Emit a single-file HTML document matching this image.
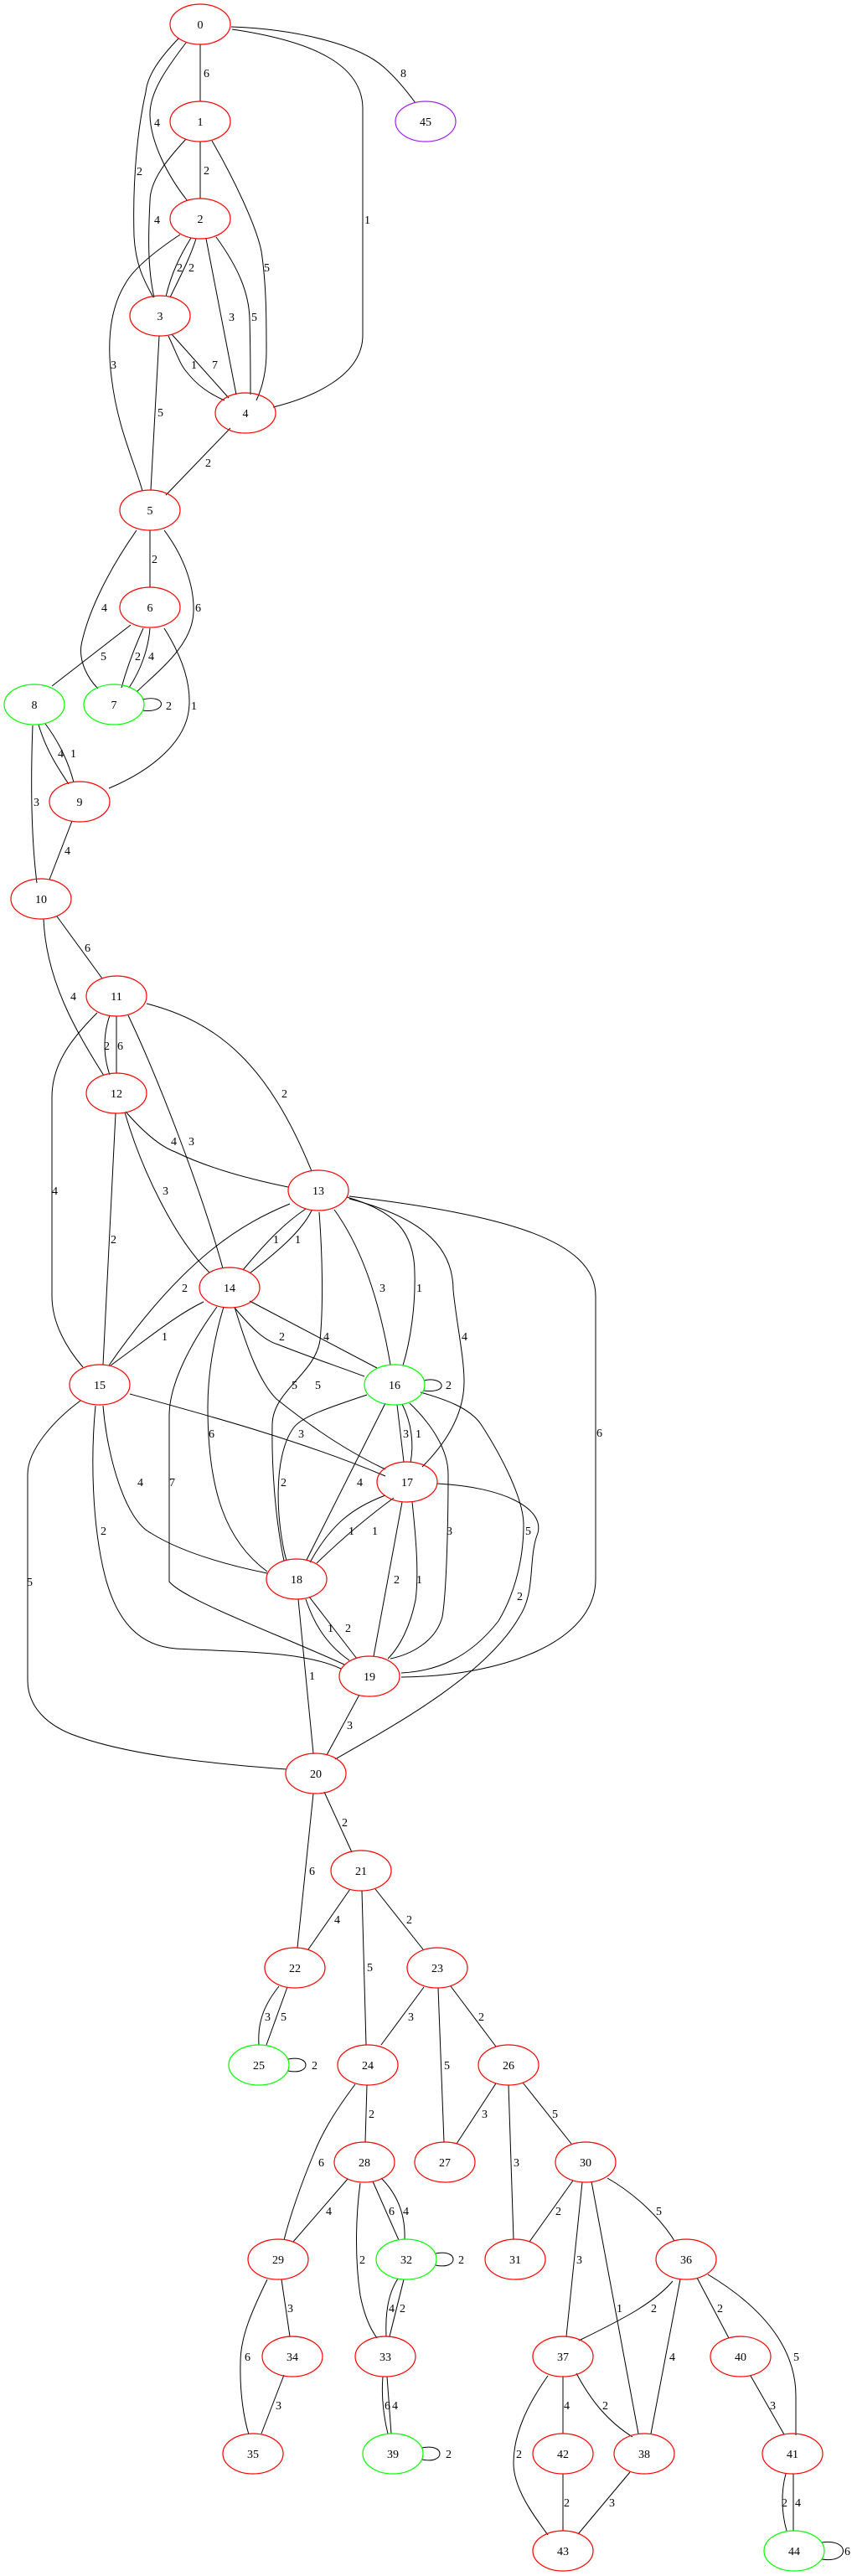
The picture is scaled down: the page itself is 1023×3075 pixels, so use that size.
<!DOCTYPE html>
<html><head><meta charset="utf-8"><style>
html,body{margin:0;padding:0;background:#fff;}
svg{display:block;}
text{font-family:"Liberation Serif",serif;font-size:14px;fill:#000;}
.n text{text-anchor:middle;}
</style></head><body>
<svg width="1023" height="3075" viewBox="0 0 1023 3075" xmlns="http://www.w3.org/2000/svg">
<g fill="none" stroke="#000" stroke-width="1">
<path d="M239,53 L239,121"/>
<path d="M276,32 C360,35 430,55 458,80 C475,95 488,112 496,123"/>
<path d="M277,35 C380,50 433,80 433,130 L433,400 C433,450 370,475 326,486"/>
<path d="M213,46 C190,70 176,90 174,110 C165,150 158,210 160,282 C162,320 175,340 183,355"/>
<path d="M222,51 C200,80 178,110 179,138 C180,170 200,210 224,240"/>
<path d="M239,169 L239,237"/>
<path d="M222,166 C200,190 179,215 179,240 C177,280 176,320 184,355"/>
<path d="M253,168 C280,215 306,270 312,300 C318,340 318,380 318,420 C318,445 312,465 306,478"/>
<path d="M228,284 C215,305 205,325 198,354"/>
<path d="M234,285 C226,310 215,330 203,355"/>
<path d="M246,285 L282,471"/>
<path d="M258,283 C285,320 297,350 298,380 C299,420 299,450 299,471"/>
<path d="M215,280 C185,300 160,320 150,338 C130,370 128,410 133,450 C140,510 160,550 170,586"/>
<path d="M201,401 C210,420 215,435 222,443 C235,460 250,470 268,478"/>
<path d="M205,399 L273,475"/>
<path d="M190,401 L180,585"/>
<path d="M275,511 L198,591"/>
<path d="M179,633 L179,701"/>
<path d="M163,633 C130,680 105,730 97,770 C94,790 105,810 117,822"/>
<path d="M196,633 C220,665 232,700 231,730 C230,770 190,800 163,826"/>
<path d="M171,750 C162,770 152,795 145,821"/>
<path d="M179,750 C177,775 168,800 154,821"/>
<path d="M156,746 L62,819"/>
<path d="M196,750 C215,780 227,810 226,840 C225,885 180,920 130,941"/>
<path d="M170,835 C200,828 200,852 170,848"/>
<path d="M46,865 C55,895 68,915 82,936"/>
<path d="M54,864 C70,885 82,910 88,934"/>
<path d="M39,866 C37,920 36,990 44,1054"/>
<path d="M86,980 L59,1050"/>
<path d="M68,1094 L122,1168"/>
<path d="M52,1097 C55,1170 90,1230 124,1284"/>
<path d="M131,1212 C123,1235 123,1260 131,1283"/>
<path d="M139,1213 L139,1281"/>
<path d="M175,1198 C260,1220 320,1270 372,1398"/>
<path d="M153,1212 C190,1290 240,1420 266,1514"/>
<path d="M116,1209 C85,1240 62,1270 62,1310 L62,1547 C62,1580 80,1610 99,1632"/>
<path d="M150,1327 C170,1350 190,1368 209,1375 C250,1395 300,1408 344,1417"/>
<path d="M149,1328 C170,1400 210,1480 250,1519"/>
<path d="M138,1329 L123,1629"/>
<path d="M365,1443 C340,1460 320,1480 290,1516"/>
<path d="M372,1445 C360,1470 330,1495 298,1520"/>
<path d="M346,1437 C290,1460 220,1500 130,1630"/>
<path d="M399,1444 C425,1480 450,1535 466,1629"/>
<path d="M414,1429 C470,1445 495,1470 495,1520 C496,1560 490,1600 481,1630"/>
<path d="M417,1431 C490,1450 541,1480 541,1540 C545,1580 554,1620 554,1649 C554,1690 530,1725 504,1751"/>
<path d="M381,1447 C385,1500 386,1560 382,1600 C376,1640 326,1660 325,1700 C324,1760 330,1820 339,1863"/>
<path d="M417,1428 C600,1450 711,1480 711,1547 L711,1885 C711,1960 600,2001 479,2002"/>
<path d="M243,1554 C210,1570 180,1595 132,1630"/>
<path d="M280,1561 C300,1585 315,1600 332,1605 C370,1620 400,1630 435,1643"/>
<path d="M298,1553 L450,1633"/>
<path d="M280,1560 C295,1610 310,1650 330,1670 C380,1710 420,1735 460,1754"/>
<path d="M267,1560 C255,1600 248,1640 248,1680 C248,1780 270,1840 319,1876"/>
<path d="M259,1560 C230,1600 202,1650 202,1690 L202,1888 C220,1910 330,1950 411,1987"/>
<path d="M155,1664 C250,1690 360,1720 460,1762"/>
<path d="M123,1678 C128,1740 150,1815 180,1830 C220,1855 280,1870 319,1878"/>
<path d="M114,1678 C108,1740 110,1820 125,1880 C140,1940 170,1965 210,1968 C280,1972 360,1970 407,1992"/>
<path d="M96,1672 C65,1695 33,1730 33,1760 L33,2006 C33,2040 60,2060 85,2070 C150,2095 250,2105 342,2112"/>
<path d="M506,1648 C530,1642 538,1664 506,1660"/>
<path d="M474,1677 L482,1745"/>
<path d="M480,1676 C492,1700 494,1725 490,1746"/>
<path d="M438,1665 C400,1678 360,1690 350,1705 C325,1740 330,1820 342,1863"/>
<path d="M460,1675 L366,1862"/>
<path d="M489,1675 C515,1700 535,1730 535,1760 C535,1820 533,1900 528,1930 C520,1960 490,1975 466,1980"/>
<path d="M502,1662 C530,1670 560,1680 574,1700 C600,1740 625,1790 625,1820 C625,1870 610,1910 595,1935 C560,1980 520,1995 479,1997"/>
<path d="M460,1785 C420,1800 395,1820 370,1865"/>
<path d="M470,1788 C440,1810 410,1835 378,1866"/>
<path d="M480,1793 L446,1977"/>
<path d="M492,1793 C497,1840 500,1880 496,1910 C490,1940 478,1965 463,1980"/>
<path d="M522,1771 C600,1775 650,1800 642,1830 C630,1860 640,1900 620,1930 C580,2000 470,2060 400,2100"/>
<path d="M365,1909 C372,1930 385,1960 417,1982"/>
<path d="M369,1906 L426,1980"/>
<path d="M356,1909 L374,2093"/>
<path d="M429,2023 L390,2095"/>
<path d="M387,2139 L420,2211"/>
<path d="M374,2141 L355,2325"/>
<path d="M418,2255 L368,2327"/>
<path d="M448,2255 L505,2327"/>
<path d="M432,2257 L437,2441"/>
<path d="M333,2371 C318,2390 307,2410 309,2441"/>
<path d="M343,2372 L318,2441"/>
<path d="M344,2458 C372,2452 372,2478 344,2472"/>
<path d="M506,2372 L455,2441"/>
<path d="M523,2373 L530,2557"/>
<path d="M538,2371 L592,2443"/>
<path d="M438,2489 L436,2557"/>
<path d="M424,2488 C400,2520 385,2545 375,2570 C358,2610 345,2650 339,2674"/>
<path d="M592,2487 L545,2559"/>
<path d="M607,2489 L613,2673"/>
<path d="M624,2486 L682,2559"/>
<path d="M415,2601 L350,2676"/>
<path d="M445,2604 L476,2674"/>
<path d="M455,2600 C475,2620 484,2645 483,2673"/>
<path d="M430,2606 C424,2650 424,2700 430,2740 C435,2765 442,2780 450,2791"/>
<path d="M684,2603 L632,2676"/>
<path d="M695,2605 L676,2789"/>
<path d="M706,2604 L762,2905"/>
<path d="M725,2600 C760,2620 790,2650 805,2675"/>
<path d="M336,2721 L346,2789"/>
<path d="M319,2721 C300,2760 287,2790 287,2820 C286,2860 292,2890 297,2906"/>
<path d="M520,2690 C548,2684 548,2710 520,2704"/>
<path d="M475,2720 C462,2740 460,2765 461,2789"/>
<path d="M482,2721 L465,2789"/>
<path d="M339,2835 L312,2905"/>
<path d="M457,2837 C455,2860 458,2885 463,2905"/>
<path d="M462,2837 L467,2905"/>
<path d="M504,2922 C532,2916 532,2942 504,2936"/>
<path d="M803,2723 C780,2750 740,2770 691,2794"/>
<path d="M812,2721 L777,2905"/>
<path d="M832,2719 L870,2791"/>
<path d="M845,2715 C920,2760 950,2810 950,2860 L950,2907"/>
<path d="M672,2837 L672,2905"/>
<path d="M688,2833 C705,2865 725,2890 755,2909"/>
<path d="M654,2836 C630,2870 613,2905 613,2940 C613,2970 635,3000 654,3026"/>
<path d="M896,2836 L936,2906"/>
<path d="M672,2953 L672,3021"/>
<path d="M752,2951 L690,3025"/>
<path d="M938,2953 C932,2975 933,3000 939,3021"/>
<path d="M947,2953 L947,3021"/>
<path d="M981,3035 C1015,3030 1015,3060 981,3055"/>
</g>
<g>
<text x="243" y="92">6</text><text x="478" y="92">8</text><text x="435" y="267">1</text>
<text x="163" y="209">2</text><text x="184" y="151">4</text><text x="243" y="208">2</text>
<text x="184" y="267">4</text><text x="315" y="324">5</text><text x="211" y="324">2</text>
<text x="225" y="324">2</text><text x="273" y="383">3</text><text x="300" y="383">5</text>
<text x="132" y="440">3</text><text x="228" y="440">1</text><text x="253" y="440">7</text>
<text x="188" y="497">5</text><text x="245" y="557">2</text><text x="181" y="672">2</text>
<text x="121" y="730">4</text><text x="233" y="730">6</text><text x="161" y="788">2</text>
<text x="177" y="788">4</text><text x="120" y="788">5</text><text x="228" y="847">1</text>
<text x="198" y="847">2</text><text x="69" y="904">4</text><text x="84" y="904">1</text>
<text x="40" y="962">3</text><text x="77" y="1020">4</text><text x="101" y="1136">6</text>
<text x="84" y="1194">4</text><text x="124" y="1253">2</text><text x="140" y="1253">6</text>
<text x="336" y="1310">2</text><text x="225" y="1367">3</text><text x="204" y="1367">4</text>
<text x="62" y="1426">4</text><text x="194" y="1426">3</text><text x="132" y="1484">2</text>
<text x="326" y="1484">1</text><text x="352" y="1484">1</text><text x="217" y="1542">2</text>
<text x="453" y="1542">3</text><text x="497" y="1542">1</text><text x="551" y="1600">4</text>
<text x="376" y="1658">5</text><text x="712" y="1715">6</text><text x="193" y="1600">1</text>
<text x="333" y="1600">2</text><text x="386" y="1600">4</text><text x="348" y="1658">5</text>
<text x="249" y="1716">6</text><text x="202" y="1774">7</text><text x="356" y="1716">3</text>
<text x="164" y="1774">4</text><text x="120" y="1832">2</text><text x="32" y="1893">5</text>
<text x="532" y="1658">2</text><text x="481" y="1716">3</text><text x="496" y="1716">1</text>
<text x="335" y="1774">2</text><text x="426" y="1774">4</text><text x="533" y="1832">3</text>
<text x="627" y="1832">5</text><text x="416" y="1832">1</text><text x="444" y="1832">1</text>
<text x="470" y="1890">2</text><text x="497" y="1890">1</text><text x="617" y="1910">2</text>
<text x="391" y="1948">1</text><text x="412" y="1948">2</text><text x="369" y="2005">1</text>
<text x="414" y="2064">3</text><text x="408" y="2180">2</text><text x="369" y="2238">6</text>
<text x="399" y="2296">4</text><text x="485" y="2296">2</text><text x="438" y="2353">5</text>
<text x="316" y="2412">3</text><text x="335" y="2412">5</text><text x="372" y="2470">2</text>
<text x="487" y="2412">3</text><text x="530" y="2470">5</text><text x="571" y="2412">2</text>
<text x="440" y="2528">2</text><text x="380" y="2586">6</text><text x="575" y="2528">3</text>
<text x="613" y="2586">3</text><text x="659" y="2528">5</text><text x="389" y="2644">4</text>
<text x="464" y="2644">6</text><text x="481" y="2644">4</text><text x="429" y="2702">2</text>
<text x="663" y="2644">2</text><text x="688" y="2702">3</text><text x="736" y="2760">1</text>
<text x="783" y="2644">5</text><text x="343" y="2760">3</text><text x="292" y="2818">6</text>
<text x="547" y="2702">2</text><text x="464" y="2760">4</text><text x="477" y="2760">2</text>
<text x="329" y="2876">3</text><text x="459" y="2876">6</text><text x="468" y="2876">4</text>
<text x="532" y="2934">2</text><text x="777" y="2760">2</text><text x="799" y="2818">4</text>
<text x="856" y="2760">2</text><text x="947" y="2818">5</text><text x="673" y="2876">4</text>
<text x="719" y="2876">2</text><text x="616" y="2934">2</text><text x="919" y="2876">3</text>
<text x="673" y="2992">2</text><text x="727" y="2992">3</text><text x="933" y="2992">2</text>
<text x="949" y="2992">4</text><text x="1008" y="3050">6</text>
</g>
<g class="n" fill="none" stroke-width="1.2">
<g stroke="#ff0000">
<ellipse cx="239" cy="29" rx="36" ry="24"/><ellipse cx="239" cy="145" rx="36" ry="24"/>
<ellipse cx="239" cy="261" rx="36" ry="24"/><ellipse cx="191" cy="377" rx="36" ry="24"/>
<ellipse cx="293" cy="493" rx="36" ry="24"/><ellipse cx="179" cy="609" rx="36" ry="24"/>
<ellipse cx="179" cy="725" rx="36" ry="24"/><ellipse cx="95" cy="957" rx="36" ry="24"/>
<ellipse cx="49" cy="1073" rx="36" ry="24"/><ellipse cx="139" cy="1189" rx="36" ry="24"/>
<ellipse cx="139" cy="1305" rx="36" ry="24"/><ellipse cx="380" cy="1421" rx="36" ry="24"/>
<ellipse cx="274" cy="1537" rx="36" ry="24"/><ellipse cx="119" cy="1653" rx="36" ry="24"/>
<ellipse cx="486" cy="1769" rx="36" ry="24"/><ellipse cx="354" cy="1885" rx="36" ry="24"/>
<ellipse cx="441" cy="2001" rx="36" ry="24"/><ellipse cx="377" cy="2117" rx="36" ry="24"/>
<ellipse cx="431" cy="2233" rx="36" ry="24"/><ellipse cx="352" cy="2349" rx="36" ry="24"/>
<ellipse cx="522" cy="2349" rx="36" ry="24"/><ellipse cx="439" cy="2465" rx="36" ry="24"/>
<ellipse cx="607" cy="2465" rx="36" ry="24"/><ellipse cx="531" cy="2581" rx="36" ry="24"/>
<ellipse cx="435" cy="2581" rx="36" ry="24"/><ellipse cx="699" cy="2581" rx="36" ry="24"/>
<ellipse cx="332" cy="2697" rx="36" ry="24"/><ellipse cx="615" cy="2697" rx="36" ry="24"/>
<ellipse cx="819" cy="2697" rx="36" ry="24"/><ellipse cx="460" cy="2813" rx="36" ry="24"/>
<ellipse cx="349" cy="2813" rx="36" ry="24"/><ellipse cx="672" cy="2813" rx="36" ry="24"/>
<ellipse cx="884" cy="2813" rx="36" ry="24"/><ellipse cx="302" cy="2929" rx="36" ry="24"/>
<ellipse cx="769" cy="2929" rx="36" ry="24"/><ellipse cx="946" cy="2929" rx="36" ry="24"/>
<ellipse cx="672" cy="2929" rx="36" ry="24"/><ellipse cx="672" cy="3045" rx="36" ry="24"/>
</g>
<g stroke="#00ff00">
<ellipse cx="136" cy="841" rx="36" ry="24"/><ellipse cx="41" cy="841" rx="36" ry="24"/>
<ellipse cx="471" cy="1653" rx="36" ry="24"/><ellipse cx="309" cy="2465" rx="36" ry="24"/>
<ellipse cx="485" cy="2697" rx="36" ry="24"/><ellipse cx="469" cy="2929" rx="36" ry="24"/>
<ellipse cx="948" cy="3045" rx="36" ry="24"/>
</g>
<ellipse cx="508" cy="145" rx="36" ry="24" stroke="#a020f0"/>
<text x="239" y="34">0</text><text x="239" y="150">1</text><text x="239" y="266">2</text>
<text x="191" y="382">3</text><text x="293" y="498">4</text><text x="179" y="614">5</text>
<text x="179" y="730">6</text><text x="136" y="846">7</text><text x="41" y="846">8</text>
<text x="95" y="962">9</text><text x="49" y="1078">10</text><text x="139" y="1194">11</text>
<text x="139" y="1310">12</text><text x="380" y="1426">13</text><text x="274" y="1542">14</text>
<text x="119" y="1658">15</text><text x="471" y="1658">16</text><text x="486" y="1774">17</text>
<text x="354" y="1890">18</text><text x="441" y="2006">19</text><text x="377" y="2122">20</text>
<text x="431" y="2238">21</text><text x="352" y="2354">22</text><text x="522" y="2354">23</text>
<text x="439" y="2470">24</text><text x="309" y="2470">25</text><text x="607" y="2470">26</text>
<text x="531" y="2586">27</text><text x="435" y="2586">28</text><text x="699" y="2586">30</text>
<text x="332" y="2702">29</text><text x="615" y="2702">31</text><text x="485" y="2702">32</text>
<text x="819" y="2702">36</text><text x="460" y="2818">33</text><text x="349" y="2818">34</text>
<text x="672" y="2818">37</text><text x="884" y="2818">40</text><text x="302" y="2934">35</text>
<text x="769" y="2934">38</text><text x="469" y="2934">39</text><text x="946" y="2934">41</text>
<text x="672" y="2934">42</text><text x="672" y="3050">43</text><text x="948" y="3050">44</text>
<text x="508" y="150">45</text>
</g>
</svg>
</body></html>
